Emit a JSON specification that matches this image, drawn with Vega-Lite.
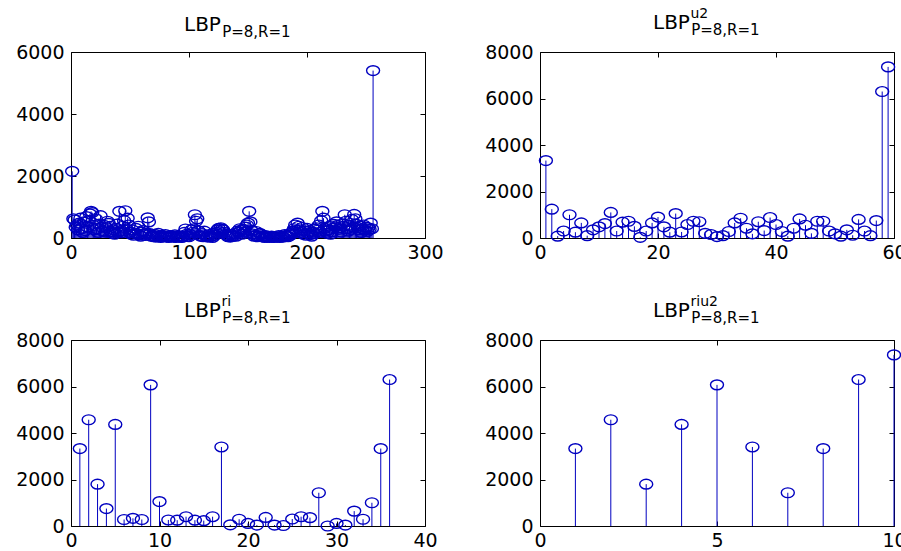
{
  "$schema": "https://vega.github.io/schema/vega-lite/v6.json",
  "background": "white",
  "padding": {"left": 15, "top": 5, "right": 0, "bottom": 0},
  "columns": 2,
  "spacing": {"row": 102, "column": 115},
  "bounds": "flush",
  "config": {
    "font": "DejaVu Sans",
    "view": {"stroke": "black", "strokeWidth": 1},
    "axis": {"domain": false, "grid": false, "labelFont": "DejaVu Sans", "labelFontSize": 19, "labelColor": "black", "tickColor": "black", "tickSize": -5, "labelPadding": 12, "labelFlush": false, "format": "d", "title": null, "titleFont": "DejaVu Sans", "titleFontSize": 14, "titleFontWeight": "normal", "titleColor": "black"},
    "axisX": {"labelPadding": 10},
    "title": {"anchor": "start", "frame": "group", "dx": 113, "offset": 3, "font": "DejaVu Sans", "fontSize": 20, "fontWeight": "normal", "color": "black", "subtitleFont": "DejaVu Sans", "subtitleFontSize": 15, "subtitleColor": "black", "subtitlePadding": -10}
  },
  "concat": [
    {
      "width": 354, "height": 186,
      "title": {"text": "LBP", "subtitle": "\u200b\u00a0\u00a0\u00a0\u00a0\u00a0\u00a0\u00a0\u00a0P=8,R=1"},
      "data": {"values": [
        {"x":1,"y":2150},{"x":2,"y":620},{"x":3,"y":580},{"x":4,"y":350},{"x":5,"y":420},{"x":6,"y":260},{"x":7,"y":480},{"x":8,"y":640},{"x":9,"y":300},{"x":10,"y":180},{"x":11,"y":520},{"x":12,"y":240},{"x":13,"y":690},{"x":14,"y":350},{"x":15,"y":560},{"x":16,"y":780},
        {"x":17,"y":860},{"x":18,"y":820},{"x":19,"y":410},{"x":20,"y":260},{"x":21,"y":620},{"x":22,"y":300},{"x":23,"y":180},{"x":24,"y":450},{"x":25,"y":720},{"x":26,"y":350},{"x":27,"y":220},{"x":28,"y":410},{"x":29,"y":190},{"x":30,"y":330},{"x":31,"y":540},{"x":32,"y":470},
        {"x":33,"y":380},{"x":34,"y":200},{"x":35,"y":150},{"x":36,"y":260},{"x":37,"y":120},{"x":38,"y":310},{"x":39,"y":450},{"x":40,"y":180},{"x":41,"y":860},{"x":42,"y":240},{"x":43,"y":170},{"x":44,"y":380},{"x":45,"y":560},{"x":46,"y":880},{"x":47,"y":290},{"x":48,"y":640},
        {"x":49,"y":420},{"x":50,"y":180},{"x":51,"y":120},{"x":52,"y":260},{"x":53,"y":90},{"x":54,"y":160},{"x":55,"y":310},{"x":56,"y":140},{"x":57,"y":380},{"x":58,"y":100},{"x":59,"y":60},{"x":60,"y":190},{"x":61,"y":240},{"x":62,"y":120},{"x":63,"y":80},{"x":64,"y":150},
        {"x":65,"y":650},{"x":66,"y":520},{"x":67,"y":140},{"x":68,"y":60},{"x":69,"y":90},{"x":70,"y":40},{"x":71,"y":120},{"x":72,"y":30},{"x":73,"y":70},{"x":74,"y":150},{"x":75,"y":50},{"x":76,"y":20},{"x":77,"y":90},{"x":78,"y":40},{"x":79,"y":60},{"x":80,"y":110},
        {"x":81,"y":30},{"x":82,"y":50},{"x":83,"y":20},{"x":84,"y":80},{"x":85,"y":40},{"x":86,"y":60},{"x":87,"y":30},{"x":88,"y":100},{"x":89,"y":20},{"x":90,"y":50},{"x":91,"y":40},{"x":92,"y":70},{"x":93,"y":30},{"x":94,"y":20},{"x":95,"y":60},{"x":96,"y":180},
        {"x":97,"y":290},{"x":98,"y":120},{"x":99,"y":60},{"x":100,"y":40},{"x":101,"y":110},{"x":102,"y":260},{"x":103,"y":180},{"x":104,"y":300},{"x":105,"y":750},{"x":106,"y":540},{"x":107,"y":620},{"x":108,"y":230},{"x":109,"y":90},{"x":110,"y":60},{"x":111,"y":140},{"x":112,"y":40},
        {"x":113,"y":220},{"x":114,"y":80},{"x":115,"y":50},{"x":116,"y":30},{"x":117,"y":110},{"x":118,"y":40},{"x":119,"y":60},{"x":120,"y":20},{"x":121,"y":150},{"x":122,"y":90},{"x":123,"y":180},{"x":124,"y":260},{"x":125,"y":310},{"x":126,"y":200},{"x":127,"y":330},{"x":128,"y":290},
        {"x":129,"y":260},{"x":130,"y":180},{"x":131,"y":120},{"x":132,"y":90},{"x":133,"y":40},{"x":134,"y":60},{"x":135,"y":30},{"x":136,"y":110},{"x":137,"y":50},{"x":138,"y":80},{"x":139,"y":140},{"x":140,"y":60},{"x":141,"y":220},{"x":142,"y":180},{"x":143,"y":300},{"x":144,"y":250},
        {"x":145,"y":120},{"x":146,"y":280},{"x":147,"y":190},{"x":148,"y":350},{"x":149,"y":420},{"x":150,"y":480},{"x":151,"y":860},{"x":152,"y":520},{"x":153,"y":240},{"x":154,"y":130},{"x":155,"y":60},{"x":156,"y":90},{"x":157,"y":210},{"x":158,"y":40},{"x":159,"y":70},{"x":160,"y":150},
        {"x":161,"y":110},{"x":162,"y":40},{"x":163,"y":60},{"x":164,"y":20},{"x":165,"y":80},{"x":166,"y":30},{"x":167,"y":50},{"x":168,"y":20},{"x":169,"y":40},{"x":170,"y":60},{"x":171,"y":30},{"x":172,"y":20},{"x":173,"y":50},{"x":174,"y":40},{"x":175,"y":30},{"x":176,"y":80},
        {"x":177,"y":20},{"x":178,"y":40},{"x":179,"y":60},{"x":180,"y":30},{"x":181,"y":110},{"x":182,"y":50},{"x":183,"y":80},{"x":184,"y":40},{"x":185,"y":130},{"x":186,"y":90},{"x":187,"y":160},{"x":188,"y":220},{"x":189,"y":300},{"x":190,"y":420},{"x":191,"y":250},{"x":192,"y":480},
        {"x":193,"y":380},{"x":194,"y":260},{"x":195,"y":180},{"x":196,"y":340},{"x":197,"y":120},{"x":198,"y":220},{"x":199,"y":90},{"x":200,"y":310},{"x":201,"y":160},{"x":202,"y":240},{"x":203,"y":110},{"x":204,"y":60},{"x":205,"y":190},{"x":206,"y":140},{"x":207,"y":280},{"x":208,"y":330},
        {"x":209,"y":250},{"x":210,"y":420},{"x":211,"y":180},{"x":212,"y":560},{"x":213,"y":860},{"x":214,"y":640},{"x":215,"y":310},{"x":216,"y":220},{"x":217,"y":150},{"x":218,"y":260},{"x":219,"y":380},{"x":220,"y":120},{"x":221,"y":200},{"x":222,"y":310},{"x":223,"y":440},{"x":224,"y":360},
        {"x":225,"y":520},{"x":226,"y":410},{"x":227,"y":280},{"x":228,"y":330},{"x":229,"y":190},{"x":230,"y":460},{"x":231,"y":380},{"x":232,"y":750},{"x":233,"y":540},{"x":234,"y":300},{"x":235,"y":220},{"x":236,"y":410},{"x":237,"y":280},{"x":238,"y":600},{"x":239,"y":350},{"x":240,"y":760},
        {"x":241,"y":620},{"x":242,"y":440},{"x":243,"y":330},{"x":244,"y":260},{"x":245,"y":390},{"x":246,"y":180},{"x":247,"y":300},{"x":248,"y":420},{"x":249,"y":260},{"x":250,"y":350},{"x":251,"y":210},{"x":252,"y":330},{"x":253,"y":280},{"x":254,"y":480},{"x":255,"y":300},{"x":256,"y":5400}
      ]},
      "resolve": {"axis": {"x": "independent", "y": "independent"}},
      "layer": [
        {"mark": {"type": "rule", "color": "#0000c0", "strokeWidth": 1},
         "encoding": {
           "x": {"field": "x", "type": "quantitative", "scale": {"domain": [0, 300], "nice": false}, "axis": {"values": [0, 100, 200, 300]}},
           "y": {"field": "y", "type": "quantitative", "scale": {"domain": [0, 6000], "nice": false}, "axis": {"values": [0, 2000, 4000, 6000]}},
           "y2": {"datum": 0}}},
        {"mark": {"type": "point", "shape": "M-1,0A1,0.75,0,1,1,1,0A1,0.75,0,1,1,-1,0Z", "size": 169, "filled": false, "color": "#0000c0", "strokeWidth": 1.4, "opacity": 1},
         "encoding": {
           "x": {"field": "x", "type": "quantitative", "axis": {"orient": "top", "labels": false, "values": [0, 100, 200, 300]}},
           "y": {"field": "y", "type": "quantitative", "axis": {"orient": "right", "labels": false, "values": [0, 2000, 4000, 6000]}}}}
      ]
    },
    {
      "width": 354, "height": 186,
      "title": {"text": "LBP", "subtitle": "\u200b\u00a0\u00a0\u00a0\u00a0\u00a0\u00a0\u00a0\u00a0P=8,R=1", "offset": -32},
      "data": {"values": [
        {"x":1,"y":3330},{"x":2,"y":1240},{"x":3,"y":80},{"x":4,"y":300},{"x":5,"y":1000},{"x":6,"y":250},{"x":7,"y":650},{"x":8,"y":100},{"x":9,"y":350},{"x":10,"y":480},
        {"x":11,"y":620},{"x":12,"y":1100},{"x":13,"y":300},{"x":14,"y":680},{"x":15,"y":720},{"x":16,"y":500},{"x":17,"y":30},{"x":18,"y":300},{"x":19,"y":650},{"x":20,"y":900},
        {"x":21,"y":480},{"x":22,"y":250},{"x":23,"y":1050},{"x":24,"y":260},{"x":25,"y":580},{"x":26,"y":720},{"x":27,"y":700},{"x":28,"y":200},{"x":29,"y":150},{"x":30,"y":60},
        {"x":31,"y":100},{"x":32,"y":280},{"x":33,"y":650},{"x":34,"y":850},{"x":35,"y":420},{"x":36,"y":180},{"x":37,"y":700},{"x":38,"y":320},{"x":39,"y":880},{"x":40,"y":580},
        {"x":41,"y":280},{"x":42,"y":80},{"x":43,"y":420},{"x":44,"y":820},{"x":45,"y":550},{"x":46,"y":200},{"x":47,"y":720},{"x":48,"y":720},{"x":49,"y":300},{"x":50,"y":180},
        {"x":51,"y":80},{"x":52,"y":350},{"x":53,"y":120},{"x":54,"y":800},{"x":55,"y":300},{"x":56,"y":100},{"x":57,"y":750},{"x":58,"y":6300},{"x":59,"y":7360}
      ]},
      "resolve": {"axis": {"x": "independent", "y": "independent"}},
      "layer": [
        {"mark": {"type": "rule", "color": "#0000c0", "strokeWidth": 1},
         "encoding": {
           "x": {"field": "x", "type": "quantitative", "scale": {"domain": [0, 60], "nice": false}, "axis": {"values": [0, 20, 40, 60]}},
           "y": {"field": "y", "type": "quantitative", "scale": {"domain": [0, 8000], "nice": false}, "axis": {"values": [0, 2000, 4000, 6000, 8000]}},
           "y2": {"datum": 0}}},
        {"mark": {"type": "point", "shape": "M-1,0A1,0.75,0,1,1,1,0A1,0.75,0,1,1,-1,0Z", "size": 169, "filled": false, "color": "#0000c0", "strokeWidth": 1.4, "opacity": 1},
         "encoding": {
           "x": {"field": "x", "type": "quantitative", "axis": {"orient": "top", "labels": false, "values": [0, 20, 40, 60], "title": "u2", "titleX": 150, "titleY": -35, "titleAlign": "left", "titleBaseline": "alphabetic", "titleAngle": 0}},
           "y": {"field": "y", "type": "quantitative", "axis": {"orient": "right", "labels": false, "values": [0, 2000, 4000, 6000, 8000]}}}}
      ]
    },
    {
      "width": 354, "height": 186,
      "title": {"text": "LBP", "subtitle": "\u200b\u00a0\u00a0\u00a0\u00a0\u00a0\u00a0\u00a0\u00a0P=8,R=1", "offset": -32},
      "data": {"values": [
        {"x":1,"y":3330},{"x":2,"y":4570},{"x":3,"y":1800},{"x":4,"y":750},{"x":5,"y":4370},{"x":6,"y":280},{"x":7,"y":330},{"x":8,"y":280},{"x":9,"y":6070},{"x":10,"y":1050},
        {"x":11,"y":260},{"x":12,"y":250},{"x":13,"y":400},{"x":14,"y":250},{"x":15,"y":230},{"x":16,"y":400},{"x":17,"y":3400},{"x":18,"y":50},{"x":19,"y":290},{"x":20,"y":110},
        {"x":21,"y":40},{"x":22,"y":370},{"x":23,"y":40},{"x":24,"y":20},{"x":25,"y":300},{"x":26,"y":400},{"x":27,"y":360},{"x":28,"y":1430},{"x":29,"y":0},{"x":30,"y":110},
        {"x":31,"y":40},{"x":32,"y":640},{"x":33,"y":290},{"x":34,"y":1000},{"x":35,"y":3330},{"x":36,"y":6300}
      ]},
      "resolve": {"axis": {"x": "independent", "y": "independent"}},
      "layer": [
        {"mark": {"type": "rule", "color": "#0000c0", "strokeWidth": 1},
         "encoding": {
           "x": {"field": "x", "type": "quantitative", "scale": {"domain": [0, 40], "nice": false}, "axis": {"values": [0, 10, 20, 30, 40]}},
           "y": {"field": "y", "type": "quantitative", "scale": {"domain": [0, 8000], "nice": false}, "axis": {"values": [0, 2000, 4000, 6000, 8000]}},
           "y2": {"datum": 0}}},
        {"mark": {"type": "point", "shape": "M-1,0A1,0.75,0,1,1,1,0A1,0.75,0,1,1,-1,0Z", "size": 169, "filled": false, "color": "#0000c0", "strokeWidth": 1.4, "opacity": 1},
         "encoding": {
           "x": {"field": "x", "type": "quantitative", "axis": {"orient": "top", "labels": false, "values": [0, 10, 20, 30, 40], "title": "ri", "titleX": 150, "titleY": -35, "titleAlign": "left", "titleBaseline": "alphabetic", "titleAngle": 0}},
           "y": {"field": "y", "type": "quantitative", "axis": {"orient": "right", "labels": false, "values": [0, 2000, 4000, 6000, 8000]}}}}
      ]
    },
    {
      "width": 354, "height": 186,
      "title": {"text": "LBP", "subtitle": "\u200b\u00a0\u00a0\u00a0\u00a0\u00a0\u00a0\u00a0\u00a0P=8,R=1", "offset": -32},
      "data": {"values": [
        {"x":1,"y":3330},{"x":2,"y":4570},{"x":3,"y":1800},{"x":4,"y":4370},{"x":5,"y":6070},{"x":6,"y":3400},{"x":7,"y":1430},{"x":8,"y":3330},{"x":9,"y":6300},{"x":10,"y":7360}
      ]},
      "resolve": {"axis": {"x": "independent", "y": "independent"}},
      "layer": [
        {"mark": {"type": "rule", "color": "#0000c0", "strokeWidth": 1},
         "encoding": {
           "x": {"field": "x", "type": "quantitative", "scale": {"domain": [0, 10], "nice": false}, "axis": {"values": [0, 5, 10]}},
           "y": {"field": "y", "type": "quantitative", "scale": {"domain": [0, 8000], "nice": false}, "axis": {"values": [0, 2000, 4000, 6000, 8000]}},
           "y2": {"datum": 0}}},
        {"mark": {"type": "point", "shape": "M-1,0A1,0.75,0,1,1,1,0A1,0.75,0,1,1,-1,0Z", "size": 169, "filled": false, "color": "#0000c0", "strokeWidth": 1.4, "opacity": 1},
         "encoding": {
           "x": {"field": "x", "type": "quantitative", "axis": {"orient": "top", "labels": false, "values": [0, 5, 10], "title": "riu2", "titleX": 150, "titleY": -35, "titleAlign": "left", "titleBaseline": "alphabetic", "titleAngle": 0}},
           "y": {"field": "y", "type": "quantitative", "axis": {"orient": "right", "labels": false, "values": [0, 2000, 4000, 6000, 8000]}}}}
      ]
    }
  ]
}
